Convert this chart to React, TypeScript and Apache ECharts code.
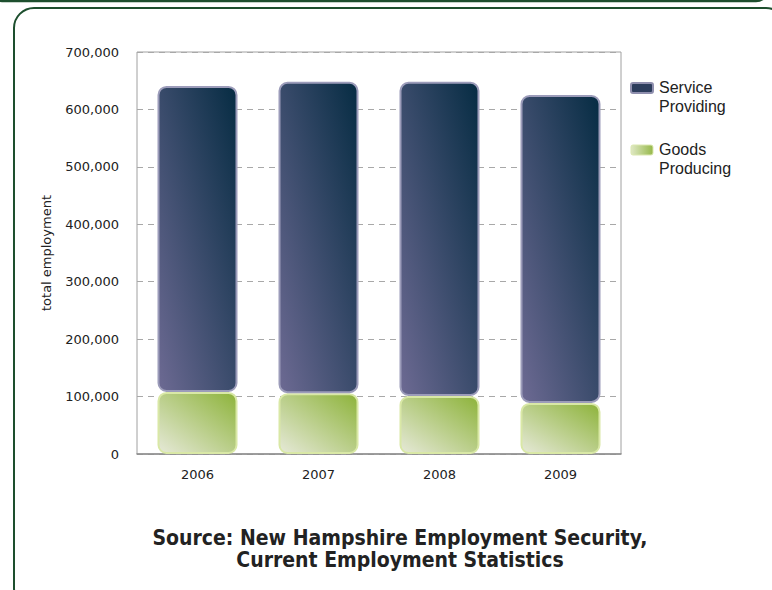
import React, { useEffect, useRef } from "react";
import * as echarts from "echarts";

const years = ["2006", "2007", "2008", "2009"];
const goodsProducing = [108000, 106000, 101000, 89000];
const serviceProviding = [533000, 542000, 547000, 536000];
const yTicks = [0, 100000, 200000, 300000, 400000, 500000, 600000, 700000];

const serviceGrad = () =>
  new echarts.graphic.LinearGradient(0, 1, 1, 0, [
    { offset: 0, color: "#6d6a93" },
    { offset: 1, color: "#062c43" },
  ]);
const goodsGrad = () =>
  new echarts.graphic.LinearGradient(0, 1, 1, 0, [
    { offset: 0, color: "#e6e9d8" },
    { offset: 1, color: "#8db33a" },
  ]);

export default function App() {
  const ref = useRef<HTMLDivElement>(null);
  useEffect(() => {
    if (!ref.current) return;
    const chart = echarts.init(ref.current, null, { renderer: "svg" });
    const tickFont = "'DejaVu Sans', sans-serif";
    const legendFont = "'Liberation Sans', Arial, sans-serif";
    chart.setOption({
      animation: false,
      backgroundColor: "#ffffff",
      grid: { left: 137, right: 151, top: 52, bottom: 136, show: true, borderColor: "#a0a0a0", borderWidth: 1 },
      xAxis: {
        type: "category",
        data: years,
        axisTick: { show: false },
        axisLine: { lineStyle: { color: "#8c8c8c", width: 1.5 } },
        axisLabel: { color: "#222", fontSize: 13, fontFamily: tickFont, margin: 14 },
      },
      yAxis: {
        type: "value",
        min: yTicks[0],
        max: yTicks[yTicks.length - 1],
        interval: 100000,
        name: "total employment",
        nameLocation: "middle",
        nameGap: 84,
        nameTextStyle: { color: "#222", fontSize: 13, fontFamily: tickFont },
        axisLine: { show: false },
        axisTick: { show: false },
        axisLabel: {
          color: "#222",
          fontSize: 13,
          fontFamily: tickFont,
          margin: 18,
          formatter: (v: number) => v.toLocaleString("en-US"),
        },
        splitLine: { show: true, lineStyle: { color: "#a8a8a8", type: [6, 5], width: 1 } },
      },
      series: [
        {
          name: "Goods Producing",
          type: "bar",
          stack: "total",
          data: goodsProducing,
          barWidth: 80,
          itemStyle: { color: goodsGrad(), borderColor: "#d9e8a6", borderWidth: 2, borderRadius: 8 },
        },
        {
          name: "Service Providing",
          type: "bar",
          stack: "total",
          data: serviceProviding,
          barWidth: 80,
          itemStyle: { color: serviceGrad(), borderColor: "#9c9cba", borderWidth: 2, borderRadius: 8 },
        },
      ],
      graphic: [
        {
          type: "rect",
          shape: { x: -10, y: -40, width: 778, height: 41, r: 12 },
          style: { fill: "none", stroke: "#1d4f2e", lineWidth: 2.5 },
          silent: true,
        },
        {
          type: "rect",
          shape: { x: 14, y: 8, width: 772, height: 600, r: 20 },
          style: { fill: "none", stroke: "#1d4f2e", lineWidth: 2 },
          silent: true,
        },
        {
          type: "rect",
          shape: { x: 631, y: 83, width: 22, height: 10, r: 2 },
          style: { fill: "#2c3d5c", stroke: "#8f8fae", lineWidth: 2 },
        },
        {
          type: "text",
          x: 659,
          y: 78,
          style: { text: "Service\nProviding", fill: "#222", font: `16px ${legendFont}`, lineHeight: 19 },
        },
        {
          type: "rect",
          shape: { x: 631, y: 145, width: 22, height: 10, r: 2 },
          style: {
            fill: new echarts.graphic.LinearGradient(0, 0, 1, 0, [
              { offset: 0, color: "#dfe8c4" },
              { offset: 1, color: "#96b84a" },
            ]),
            stroke: "#dbe8b0",
            lineWidth: 1,
          },
        },
        {
          type: "text",
          x: 659,
          y: 140,
          style: { text: "Goods\nProducing", fill: "#222", font: `16px ${legendFont}`, lineHeight: 19 },
        },
        {
          type: "text",
          x: 400,
          y: 527,
          style: {
            text: "Source: New Hampshire Employment Security,\nCurrent Employment Statistics",
            fill: "#222",
            font: `bold 21px 'DejaVu Sans Condensed', sans-serif`,
            align: "center",
            lineHeight: 22,
          },
        },
      ],
    });
    return () => chart.dispose();
  }, []);
  return <div ref={ref} style={{ position: "fixed", left: 0, top: 0, width: 772, height: 590 }} />;
}
